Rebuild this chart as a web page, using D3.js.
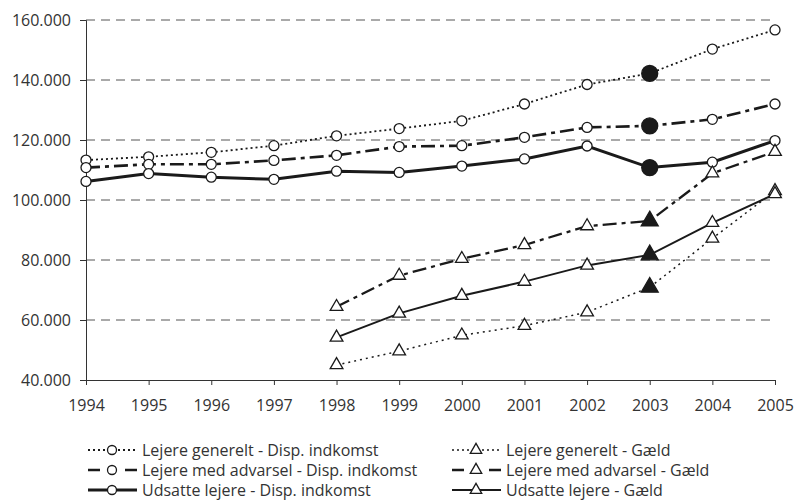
<!DOCTYPE html>
<html>
<head>
    <meta charset="UTF-8">
    <title>Disp. indkomst og gæld</title>
    <script src="https://d3js.org/d3.v7.min.js"></script>
    <style>
        *{
            padding:0;
            margin:0;
        }
        body{
            background:#fff;
        }
        text{
            font-family:"Open Sans", "DejaVu Sans", sans-serif;
            fill:#333;
        }
        .grid line{
            stroke:#555;
            stroke-dasharray:9,6;
        }
        .axis path, .axis line{
            stroke:#333;
        }
    </style>
</head>
<body>
<svg id="main" width="796" height="500"></svg>
<script>
const years = [1994, 1995, 1996, 1997, 1998, 1999, 2000, 2001, 2002, 2003, 2004, 2005];
const yTicks = [40000, 60000, 80000, 100000, 120000, 140000, 160000];

// disp. indkomst
const generelDisp = [113300, 114400, 115900, 118100, 121400, 123800, 126400, 132000, 138500, 142200, 150300, 156700];
const advarselDisp = [110800, 111900, 111900, 113200, 114900, 117800, 118100, 120900, 124200, 124700, 126900, 132000];
const udsatteDisp = [106200, 108800, 107600, 106900, 109600, 109200, 111300, 113700, 118000, 110800, 112600, 119800];
// gæld (først fra 1998)
const generelGaeld = [null, null, null, null, 45000, 49600, 54900, 58100, 62600, 70900, 87200, 103000];
const advarselGaeld = [null, null, null, null, 64400, 74800, 80400, 85000, 91300, 93000, 108900, 116100];
const udsatteGaeld = [null, null, null, null, 54200, 62200, 68100, 72800, 78200, 81700, 92400, 102000];

const seriesNames = [
    "Lejere generelt - Disp. indkomst",
    "Lejere med advarsel - Disp. indkomst",
    "Udsatte lejere - Disp. indkomst",
    "Lejere generelt - Gæld",
    "Lejere med advarsel - Gæld",
    "Udsatte lejere - Gæld"
];
const highlightYear = 2003;

const series = [
    {name: seriesNames[0], values: generelDisp, marker: "circle", width: 1.8, dash: "2,3", legendDash: "2,3"},
    {name: seriesNames[1], values: advarselDisp, marker: "circle", width: 2.6, dash: "14,5,4,5", legendDash: "12,25,12"},
    {name: seriesNames[2], values: udsatteDisp, marker: "circle", width: 3, dash: null, legendDash: null},
    {name: seriesNames[3], values: generelGaeld, marker: "triangle", width: 1.5, dash: "2,4", legendDash: "2,3"},
    {name: seriesNames[4], values: advarselGaeld, marker: "triangle", width: 2.3, dash: "14,5,4,5", legendDash: "12,25,12"},
    {name: seriesNames[5], values: udsatteGaeld, marker: "triangle", width: 2, dash: null, legendDash: null}
];

const svg = d3.select("#main");

const x = d3.scaleLinear().domain([1994, 2005]).range([86, 775]);
const y = d3.scaleLinear().domain([40000, 160000]).range([380, 20]);

const da = d3.formatLocale({decimal: ",", thousands: ".", grouping: [3], currency: ["", " kr."]});
const fmt = da.format(",.0f");

// gridlines
svg.append("g")
    .attr("class", "grid")
    .selectAll("line")
    .data(yTicks.slice(1))
    .enter().append("line")
    .attr("x1", x(1994))
    .attr("x2", 770)
    .attr("y1", d => y(d))
    .attr("y2", d => y(d));

// axes
const yAxis = svg.append("g")
    .attr("class", "axis")
    .attr("transform", `translate(${x(1994)},0)`)
    .call(d3.axisLeft(y).tickValues(yTicks).tickFormat(fmt).tickSizeOuter(0).tickSize(6).tickPadding(9));

const xAxis = svg.append("g")
    .attr("class", "axis")
    .attr("transform", `translate(0,${y(40000)})`)
    .call(d3.axisBottom(x).tickValues(years).tickFormat(d3.format("d")).tickSizeOuter(0).tickSize(5).tickPadding(15));

svg.selectAll(".axis text")
    .style("font-size", "16px")
    .attr("fill", "#333");
yAxis.selectAll("text").attr("dy", "0.35em");

// lines
const line = d3.line()
    .defined(d => d.v !== null)
    .x(d => x(d.year))
    .y(d => y(d.v));

series.forEach(s => {
    s.points = years.map((yr, i) => ({year: yr, v: s.values[i]}));
});

svg.append("g")
    .selectAll("path")
    .data(series)
    .enter().append("path")
    .attr("d", s => line(s.points))
    .attr("fill", "none")
    .attr("stroke", "#1a1a1a")
    .attr("stroke-width", s => s.width)
    .attr("stroke-dasharray", s => s.dash);

// markers
const tri = d3.symbol().type(d3.symbolTriangle);

function drawMarker(g, type, big, scale) {
    if (type === "circle") {
        g.append("circle")
            .attr("r", (big ? 8 : 5) * scale)
            .attr("fill", big ? "#1a1a1a" : "#fff")
            .attr("stroke", "#1a1a1a")
            .attr("stroke-width", 1.3);
    } else {
        g.append("path")
            .attr("d", tri.size(big ? 125 : 70 * scale * scale)())
            .attr("fill", big ? "#1a1a1a" : "#fff")
            .attr("stroke", "#1a1a1a")
            .attr("stroke-width", 1.3);
    }
}

const markers = svg.append("g");
series.forEach(s => {
    s.points.filter(p => p.v !== null).forEach(p => {
        const g = markers.append("g")
            .attr("transform", `translate(${x(p.year)},${y(p.v)})`);
        drawMarker(g, s.marker, p.year === highlightYear, 1);
    });
});

// legend
const legendX = [88, 452];
const legendY = [450, 470, 490];
const legend = svg.append("g");
series.forEach((s, i) => {
    const col = Math.floor(i / 3), row = i % 3;
    const lx = legendX[col], ly = legendY[row];
    const g = legend.append("g").attr("transform", `translate(${lx},${ly})`);
    g.append("line")
        .attr("x1", 0).attr("x2", 49)
        .attr("stroke", "#1a1a1a")
        .attr("stroke-width", s.width)
        .attr("stroke-dasharray", s.legendDash);
    const m = g.append("g").attr("transform", "translate(24,0)");
    drawMarker(m, s.marker, false, 0.9);
    g.append("text")
        .attr("x", 54)
        .attr("dy", "0.35em")
        .style("font-size", "16px")
        .text(s.name);
});
</script>
</body>
</html>
